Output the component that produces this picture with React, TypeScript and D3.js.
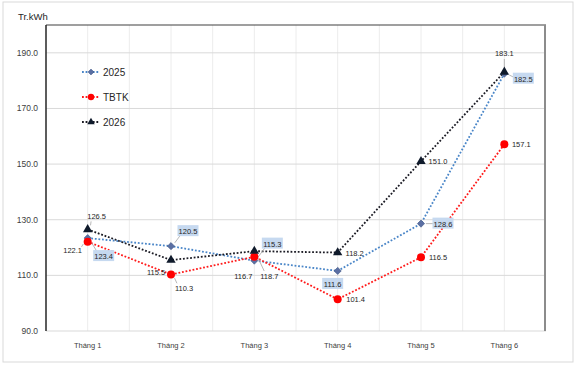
import React from 'react';
import * as d3 from 'd3';

const months = ['Tháng 1', 'Tháng 2', 'Tháng 3', 'Tháng 4', 'Tháng 5', 'Tháng 6'];
const values2025 = [123.4, 120.5, 115.3, 111.6, 128.6, 182.5];
const valuesTBTK = [122.1, 110.3, 116.7, 101.4, 116.5, 157.1];
const values2026 = [126.5, 115.5, 118.7, 118.2, 151.0, 183.1];
const yTicks = [90, 110, 130, 150, 170, 190];

// label offsets relative to the point: [dx, dy, leader]
const labelOffsets2025: [number, number, boolean][] = [
  [16, 18, true], [17, -15, true], [18, -17, true], [-5, 13, false], [22, 0, true], [19, 5, true],
];
const labelOffsetsTBTK: [number, number, boolean][] = [
  [-15, 8, true], [13, 13, true], [-11, 19, false], [18, 0, false], [17, 0, false], [17, 0, false],
];
const labelOffsets2026: [number, number, boolean][] = [
  [9, -13, true], [-15, 12, false], [15, 25, true], [17, 0, false], [17, 0, false], [0, -19, true],
];

const W = 576;
const H = 365;
const left = 46;
const right = 546;
const top = 25;
const bottom = 331;
const font = "'Liberation Sans', Arial, sans-serif";

const x = d3.scaleBand<string>().domain(months).range([left, right]);
const y = d3.scaleLinear().domain([90, 200]).range([bottom, top]);
const cx = (m: string) => (x(m) ?? 0) + x.bandwidth() / 2;

interface Series {
  name: string;
  values: number[];
  offsets: [number, number, boolean][];
  line: string;
  marker: 'diamond' | 'circle' | 'triangle';
  fill: string;
  boxed: boolean;
}

const series: Series[] = [
  { name: '2025', values: values2025, offsets: labelOffsets2025, line: '#4a86c8', marker: 'diamond', fill: '#5b6fa3', boxed: true },
  { name: 'TBTK', values: valuesTBTK, offsets: labelOffsetsTBTK, line: '#ff1a1a', marker: 'circle', fill: '#ff0000', boxed: false },
  { name: '2026', values: values2026, offsets: labelOffsets2026, line: '#1b1b24', marker: 'triangle', fill: '#0f1a2b', boxed: false },
];

const Marker: React.FC<{ kind: Series['marker']; px: number; py: number; fill: string; scale?: number }> = ({ kind, px, py, fill, scale = 1 }) => {
  if (kind === 'circle') return <circle cx={px} cy={py} r={4 * scale} fill={fill} />;
  if (kind === 'diamond') {
    const r = 3.6 * scale;
    return <path d={`M${px},${py - r}L${px + r},${py}L${px},${py + r}L${px - r},${py}Z`} fill={fill} stroke="#3e5585" strokeWidth={0.6} />;
  }
  const d = d3.symbol().type(d3.symbolTriangle).size(38 * scale * scale)() ?? '';
  return <path d={d} transform={`translate(${px},${py})`} fill={fill} />;
};

const App: React.FC = () => {
  const vGrid: number[] = [];
  for (let k = 1; k < months.length * 2; k++) vGrid.push(left + (k * x.bandwidth()) / 2);

  return (
    <svg width={W} height={H} style={{ position: 'absolute', left: 0, top: 0 }}>
      <rect x={0} y={0} width={W} height={H} fill="#fff" />
      <rect x={3} y={2} width={570} height={360} fill="#fff" stroke="#d9d9d9" strokeWidth={1} />

      {/* grid */}
      {vGrid.map((gx) => (
        <line key={gx} x1={gx} x2={gx} y1={top} y2={bottom} stroke="#ececec" strokeWidth={1} />
      ))}
      {yTicks.map((t) => (
        <g key={t}>
          <line x1={left} x2={right} y1={y(t)} y2={y(t)} stroke="#d9d9d9" strokeWidth={1} />
          <text x={38} y={y(t) + 3} textAnchor="end" fontSize={8.5} fontFamily={font} fill="#404040">
            {t.toFixed(1)}
          </text>
        </g>
      ))}
      <line x1={left} x2={right} y1={top} y2={top} stroke="#404040" strokeWidth={1.2} />
      <line x1={left} x2={left} y1={top} y2={bottom} stroke="#262626" strokeWidth={1.5} />
      <line x1={right - 1} x2={right - 1} y1={top} y2={bottom} stroke="#8c8c8c" strokeWidth={2} />

      <text x={18} y={20} fontSize={9.5} fontFamily={font} fill="#262626">Tr.kWh</text>

      {months.map((m) => (
        <text key={m} x={cx(m)} y={348} textAnchor="middle" fontSize={7.5} fontFamily={font} fill="#404040">
          {m}
        </text>
      ))}

      {/* lines */}
      {series.map((s) => {
        const path = d3.line<number>().x((_, i) => cx(months[i])).y((v) => y(v))(s.values) ?? '';
        return <path key={s.name} d={path} fill="none" stroke={s.line} strokeWidth={1.8} strokeDasharray="1.8 1.8" />;
      })}

      {/* leaders + labels */}
      {series.map((s) =>
        s.values.map((v, i) => {
          const px = cx(months[i]);
          const py = y(v);
          const [dx, dy, leader] = s.offsets[i];
          const lx = px + dx;
          const ly = py + dy;
          const len = Math.hypot(dx, dy) || 1;
          const ux = dx / len;
          const uy = dy / len;
          const txt = v.toFixed(1);
          const tw = 18;
          return (
            <g key={s.name + i}>
              {leader && (
                <line x1={px + ux * 5} y1={py + uy * 5} x2={lx - ux * Math.min(len - 6, 10)} y2={ly - uy * Math.min(len - 6, 6)} stroke="#a6a6a6" strokeWidth={0.8} />
              )}
              {s.boxed && <rect x={lx - tw / 2 - 1.5} y={ly - 6} width={tw + 3} height={11} fill="#c6d9f0" />}
              <text x={lx} y={ly + 3} textAnchor="middle" fontSize={7.5} fontFamily={font} fill="#262626">
                {txt}
              </text>
            </g>
          );
        })
      )}

      {/* markers */}
      {series.map((s) =>
        s.values.map((v, i) => <Marker key={s.name + 'm' + i} kind={s.marker} px={cx(months[i])} py={y(v)} fill={s.fill} />)
      )}

      {/* legend */}
      {series.map((s, i) => {
        const ly = 72 + i * 25;
        return (
          <g key={s.name + 'leg'}>
            <line x1={82} x2={99} y1={ly} y2={ly} stroke={s.line} strokeWidth={1.8} strokeDasharray="1.8 1.8" />
            <Marker kind={s.marker} px={91} py={ly} fill={s.fill} scale={0.8} />
            <text x={103} y={ly + 4} fontSize={10} fontFamily={font} fill="#262626">{s.name}</text>
          </g>
        );
      })}
    </svg>
  );
};

export default App;
